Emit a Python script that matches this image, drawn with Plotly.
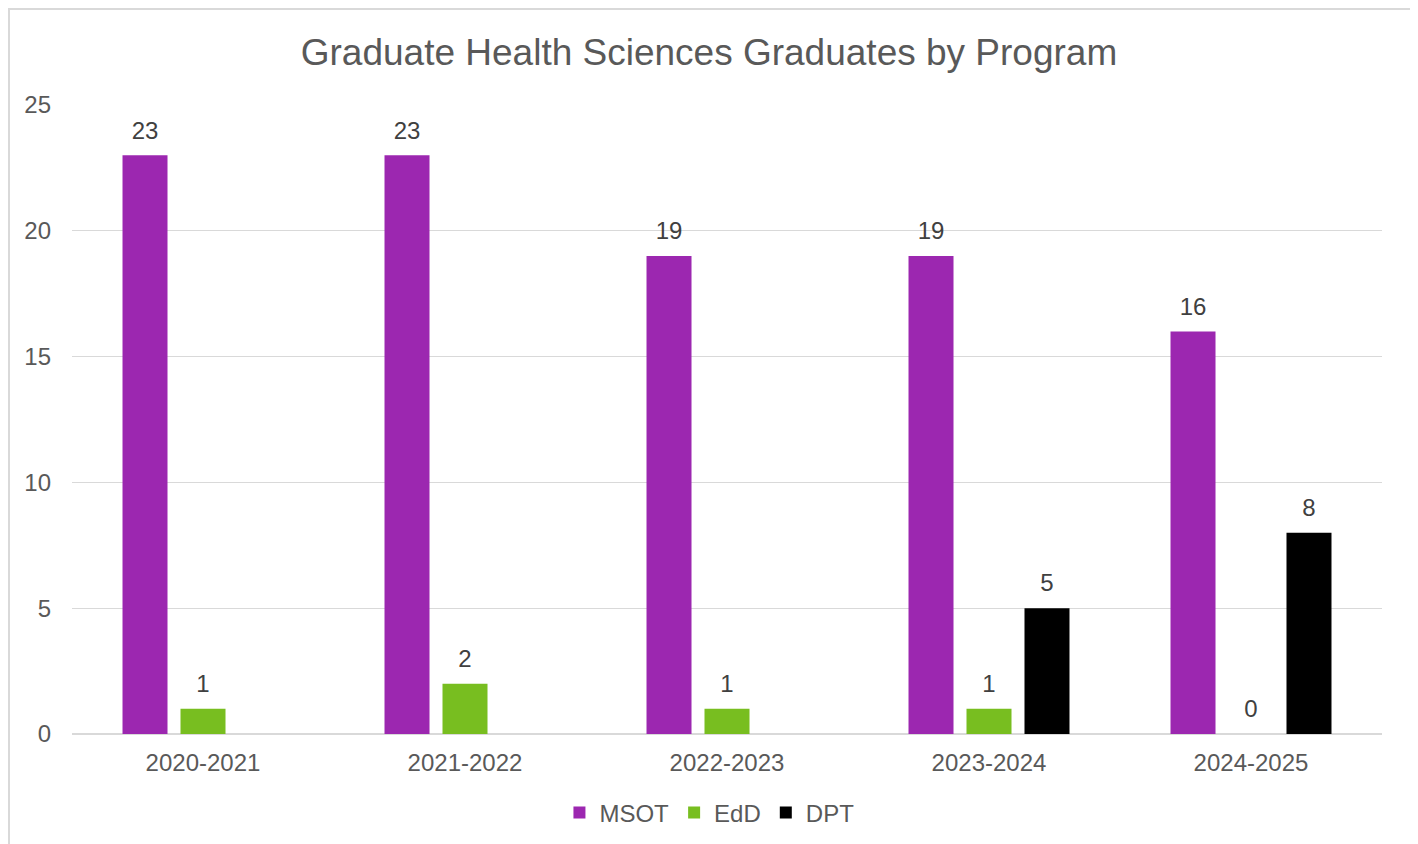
import plotly.graph_objects as go

years = ["2020-2021", "2021-2022", "2022-2023", "2023-2024", "2024-2025"]
msot = [23, 23, 19, 19, 16]
edd = [1, 2, 1, 1, 0]
dpt = [None, None, None, 5, 8]

colors = {"MSOT": "#9C27B0", "EdD": "#78BE20", "DPT": "#000000"}

W, H = 1418, 844
L, T = 64, 97
PW, PH = 1310, 629

fig = go.Figure()
for name, vals in [("MSOT", msot), ("EdD", edd), ("DPT", dpt)]:
    fig.add_trace(go.Bar(
        x=years, y=vals, name=name,
        marker=dict(color=colors[name], line=dict(width=0)),
        text=[("" if v is None else f"<span style='font-size:24px'>{v}</span><br>&nbsp;") for v in vals],
        textposition="outside", cliponaxis=False,
        textfont=dict(family="Liberation Sans, Arial", size=9, color="#404040"),
    ))

fig.update_layout(
    width=W, height=H,
    margin=dict(l=L, r=W - L - PW, t=T, b=H - T - PH),
    paper_bgcolor="white", plot_bgcolor="white",
    barmode="group", bargap=0.336, bargroupgap=0.224,
    font=dict(family="Liberation Sans, Arial", color="#595959"),
    title=dict(text="Graduate Health Sciences Graduates by Program",
               x=(709 - 8) / W, xanchor="center", y=1 - 44 / H, yanchor="middle",
               font=dict(size=37, color="#595959")),
    showlegend=True,
    legend=dict(orientation="h", x=0.4866, xanchor="center", y=-0.1256, yanchor="middle",
                font=dict(size=24, color="#595959"), itemwidth=30, traceorder="normal"),
    xaxis=dict(showgrid=False, showline=False, ticks="", tickfont=dict(size=24, color="#595959"),
               ticklabelstandoff=12),
    yaxis=dict(range=[0, 25], dtick=5, showgrid=True, gridcolor="#D9D9D9", gridwidth=1.3,
               zeroline=True, zerolinecolor="#D9D9D9", zerolinewidth=1.5, showline=False,
               ticks="", tickfont=dict(size=24, color="#595959"), ticklabelstandoff=20),
    shapes=[dict(type="rect", xref="paper", yref="paper",
                 x0=(1 - L) / PW, x1=(1403 - L) / PW,
                 y0=(T + PH - 860) / PH, y1=(T + PH - 1) / PH,
                 line=dict(color="#D9D9D9", width=2), fillcolor="rgba(0,0,0,0)", layer="below")],
)

fig.write_html("out.html")
